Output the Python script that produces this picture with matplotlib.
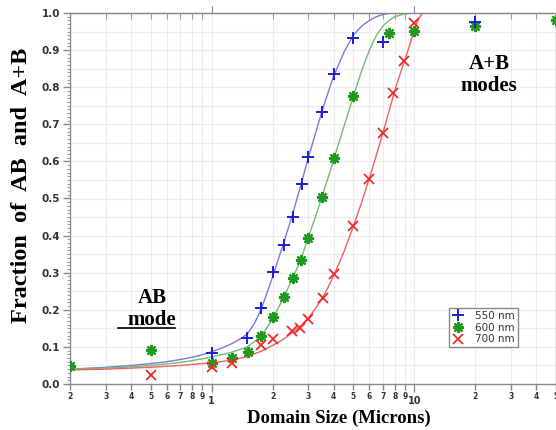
import matplotlib
matplotlib.use("Agg")
import matplotlib.pyplot as plt
from matplotlib.ticker import FixedLocator, FixedFormatter, MultipleLocator, FormatStrFormatter
import numpy as np

# ---- data ----
x_550 = [1.0, 1.49, 1.75, 2.0, 2.27, 2.52, 2.79, 2.99, 3.5, 4.02, 4.99, 7.0, 20.0]
y_550 = [0.084, 0.124, 0.205, 0.302, 0.375, 0.45, 0.539, 0.612, 0.733, 0.836, 0.933, 0.922, 0.975]

x_600 = [0.2, 0.5, 1.0, 1.26, 1.51, 1.75, 2.0, 2.27, 2.52, 2.76, 2.99, 3.5, 4.02, 5.0, 7.52, 10.0, 20.0, 50.0]
y_600 = [0.049, 0.092, 0.056, 0.07, 0.086, 0.13, 0.18, 0.234, 0.286, 0.334, 0.393, 0.504, 0.609, 0.776, 0.946, 0.951, 0.965, 0.98]

x_700 = [0.5, 1.0, 1.26, 1.75, 2.0, 2.49, 2.73, 2.99, 3.54, 4.02, 5.0, 6.0, 7.0, 7.87, 8.92, 10.0]
y_700 = [0.024, 0.046, 0.057, 0.105, 0.121, 0.143, 0.151, 0.175, 0.232, 0.296, 0.426, 0.553, 0.677, 0.785, 0.871, 0.973]

# fitted curves
cx_550 = [0.2, 0.3, 0.4, 0.5, 0.6, 0.7, 0.8, 0.9, 1.0, 1.1, 1.25, 1.4, 1.5, 1.625, 1.75, 1.875, 2.0,
          2.25, 2.5, 2.75, 3.0, 3.25, 3.5, 3.75, 4.0, 4.5, 5.0, 5.5, 6.0, 6.5, 7.0, 7.5, 8.0, 50.0]
cy_550 = [0.040, 0.045, 0.050, 0.055, 0.060, 0.066, 0.072, 0.079, 0.087, 0.095, 0.108, 0.123, 0.135,
          0.163, 0.200, 0.245, 0.290, 0.375, 0.455, 0.535, 0.610, 0.675, 0.735, 0.785, 0.830,
          0.895, 0.940, 0.965, 0.980, 0.990, 0.996, 0.999, 1.0, 1.0]

cx_600 = [0.2, 0.3, 0.4, 0.5, 0.6, 0.7, 0.8, 0.9, 1.0, 1.25, 1.5, 1.75, 2.0, 2.25, 2.5, 2.75, 3.0,
          3.25, 3.5, 3.75, 4.0, 4.5, 5.0, 5.5, 6.0, 6.5, 7.0, 7.5, 8.0, 9.0, 10.0, 50.0]
cy_600 = [0.040, 0.043, 0.046, 0.050, 0.054, 0.058, 0.063, 0.068, 0.073, 0.085, 0.100, 0.128, 0.175,
          0.230, 0.283, 0.335, 0.395, 0.450, 0.505, 0.555, 0.605, 0.695, 0.775, 0.845, 0.900,
          0.940, 0.965, 0.980, 0.990, 0.998, 1.0, 1.0]

cx_700 = [0.2, 0.3, 0.5, 0.7, 1.0, 1.25, 1.5, 1.75, 2.0, 2.25, 2.5, 2.75, 3.0, 3.25, 3.5, 3.75, 4.0,
          4.5, 5.0, 5.5, 6.0, 6.5, 7.0, 7.5, 8.0, 8.5, 9.0, 9.5, 10.0, 10.5, 11.0, 50.0]
cy_700 = [0.038, 0.040, 0.045, 0.050, 0.057, 0.064, 0.074, 0.088, 0.104, 0.120, 0.138, 0.157, 0.178,
          0.203, 0.230, 0.260, 0.292, 0.357, 0.425, 0.490, 0.555, 0.617, 0.677, 0.735, 0.790,
          0.835, 0.875, 0.915, 0.955, 0.985, 1.0, 1.0]

labels = ["550 nm", "600 nm", "700 nm"]
x_minor_ticks = [0.2, 0.3, 0.4, 0.5, 0.6, 0.7, 0.8, 0.9, 2, 3, 4, 5, 6, 7, 8, 9, 20, 30, 40, 50]
x_minor_labels = ["2", "3", "4", "5", "6", "7", "8", "9", "2", "3", "4", "5", "6", "7", "8", "9", "2", "3", "4", "5"]
x_major_ticks = [1, 10]
x_major_labels = ["1", "10"]

fig = plt.figure(figsize=(5.56, 4.30), dpi=100)
ax = fig.add_axes([70/556, 1-384/430, 1-70/556, (384-13)/430])

ax.set_xscale("log")
ax.set_xlim(0.2, 50)
ax.set_ylim(0.0, 1.0)

# grid
gridc = "#ebebf3"
for v in x_minor_ticks + x_major_ticks:
    ax.axvline(v, color=gridc, lw=0.8, zorder=0)
for v in np.arange(0.05, 1.0, 0.05):
    ax.axhline(v, color=gridc, lw=0.8, zorder=0)

# curves
ax.plot(cx_550, cy_550, color="#7878e0", lw=1.0, zorder=2)
ax.plot(cx_600, cy_600, color="#70c070", lw=1.0, zorder=2)
ax.plot(cx_700, cy_700, color="#f06060", lw=1.0, zorder=2)

# markers
ax.plot(x_550, y_550, ls="none", marker="+", ms=8, mew=1.4, color="#1c1cd8", label=labels[0], zorder=4)
ax.plot(x_600, y_600, ls="none", marker=(8, 2, 0), ms=8, mew=1.6, color="#1f9a1f", label=labels[1], zorder=3)
ax.plot(x_700, y_700, ls="none", marker="x", ms=7, mew=1.3, color="#ec2a2a", label=labels[2], zorder=4)

# spines
for s in ["left", "bottom", "top", "right"]:
    ax.spines[s].set_color("#8a8a8a")
    ax.spines[s].set_linewidth(1.0)

# x ticks
ax.xaxis.set_major_locator(FixedLocator(x_major_ticks))
ax.xaxis.set_major_formatter(FixedFormatter(x_major_labels))
ax.xaxis.set_minor_locator(FixedLocator(x_minor_ticks))
ax.xaxis.set_minor_formatter(FixedFormatter(x_minor_labels))
ax.tick_params(axis="x", which="major", direction="out", length=6, width=1, color="#8a8a8a",
               pad=3, labelsize=7)
ax.tick_params(axis="x", which="minor", direction="out", length=4, width=1, color="#8a8a8a",
               pad=1.5, labelsize=5.5)
for lab in ax.get_xticklabels(which="both"):
    lab.set_fontweight("bold")
    lab.set_color("#333333")

# y ticks
ax.yaxis.set_major_locator(MultipleLocator(0.1))
ax.yaxis.set_minor_locator(MultipleLocator(0.01))
ax.yaxis.set_major_formatter(FormatStrFormatter("%.1f"))
ax.tick_params(axis="y", which="major", direction="out", length=5, width=1, color="#8a8a8a",
               pad=2, labelsize=7.5)
ax.tick_params(axis="y", which="minor", direction="out", length=2.5, width=0.7, color="#9a9a9a")
for lab in ax.get_yticklabels():
    lab.set_fontweight("bold")
    lab.set_color("#333333")

# top ticks
top = ax.secondary_xaxis("top")
top.set_xscale("log")
top.xaxis.set_major_locator(FixedLocator(x_major_ticks))
top.xaxis.set_minor_locator(FixedLocator(x_minor_ticks))
top.tick_params(which="major", direction="out", length=5, color="#8a8a8a", labeltop=False)
top.tick_params(which="minor", direction="in", length=4, color="#8a8a8a", labeltop=False)
top.spines["top"].set_color("#8a8a8a")

# labels
ax.set_xlabel("Domain Size (Microns)", fontfamily="Liberation Serif", fontweight="bold",
              fontsize=13.5)
ax.xaxis.set_label_coords((339-70)/486, (384-410)/371)
ax.set_ylabel("Fraction  of  AB  and  A+B", fontfamily="Liberation Serif", fontweight="bold",
              fontsize=17.5)
ax.yaxis.set_label_coords((32-70)/486, (384-185)/371)

# annotations
ax.text((152-70)/486, (384-309)/371, "AB\nmode", transform=ax.transAxes, ha="center", va="center",
        fontfamily="Liberation Serif", fontweight="bold", fontsize=15, linespacing=1.15)
ax.plot([(118-70)/486, (175-70)/486], [(384-328)/371, (384-328)/371], transform=ax.transAxes,
        color="black", lw=1.2, clip_on=False)
ax.text((489-70)/486, (384-75)/371, "A+B\nmodes", transform=ax.transAxes, ha="center", va="center",
        fontfamily="Liberation Serif", fontweight="bold", fontsize=15, linespacing=1.15)

leg = ax.legend(loc="upper left", bbox_to_anchor=((449-70)/486, (384-308)/371),
                fontsize=7.5, frameon=True, fancybox=False, borderpad=0.3, handlelength=1.2,
                handletextpad=1.0, labelspacing=0.15, borderaxespad=0, framealpha=1)
leg.get_frame().set_edgecolor("#888888")
leg.get_frame().set_linewidth(1.0)
for t in leg.get_texts():
    t.set_color("#333333")

fig.savefig("out.png", dpi=100)
